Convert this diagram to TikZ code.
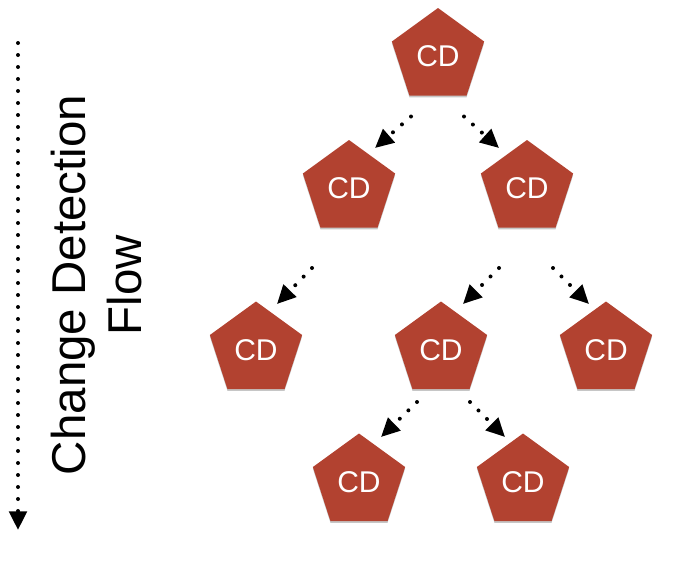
\documentclass[tikz,border=0pt]{standalone}
\usepackage{fontspec}
\setmainfont{Liberation Sans}
\usetikzlibrary{shapes.geometric,arrows.meta,shadows}

\definecolor{cdred}{RGB}{178,66,48}

\begin{document}
\begin{tikzpicture}[
    x=0.75pt, y=-0.75pt,
    cdnode/.style={
        regular polygon,
        regular polygon sides=5,
        fill=cdred,
        inner sep=0pt,
        minimum size=72.75pt,
        text=white,
        font=\fontsize{22.5pt}{26pt}\selectfont,
        drop shadow={opacity=0.45, shadow xshift=0pt, shadow yshift=-1.3pt}
    },
    flowlabel/.style={
        align=center,
        font=\fontsize{35.6pt}{42pt}\selectfont
    },
    flowarrow/.style={
        -{Triangle[length=14pt,width=13pt]},
        line width=3pt,
        line cap=round,
        dash pattern=on 0pt off 9pt
    }
]

\useasboundingbox (0,0) rectangle (679,561);

\node[cdnode] (cdtop) at (438,56.5) {CD};
\node[cdnode] (cdl) at (349,188.5) {CD};
\node[cdnode] (cdr) at (527,188.5) {CD};
\node[cdnode] (cdll) at (256,350) {CD};
\node[cdnode] (cdrm) at (441,350) {CD};
\node[cdnode] (cdrr) at (606,350) {CD};
\node[cdnode] (cdml) at (359,482) {CD};
\node[cdnode] (cdmr) at (523,482) {CD};

\node[flowlabel, rotate=90] (flowtxt) at (97,285) {Change Detection\\Flow};

\coordinate (flowtop) at (18,43);
\coordinate (flowend) at (18,530);
\draw[flowarrow] (flowtop) -- (flowend);

\draw[flowarrow] ([shift={(-27,60)}]cdtop.center) -- ([shift={(26,-40.5)}]cdl.center);
\draw[flowarrow] ([shift={(26,60)}]cdtop.center) -- ([shift={(-28,-40.5)}]cdr.center);
\draw[flowarrow] ([shift={(-37,79.5)}]cdl.center) -- ([shift={(21,-46)}]cdll.center);
\draw[flowarrow] ([shift={(-28,79.5)}]cdr.center) -- ([shift={(22,-46)}]cdrm.center);
\draw[flowarrow] ([shift={(26,79.5)}]cdr.center) -- ([shift={(-17,-46)}]cdrr.center);
\draw[flowarrow] ([shift={(-24,52)}]cdrm.center) -- ([shift={(22,-45)}]cdml.center);
\draw[flowarrow] ([shift={(29,52)}]cdrm.center) -- ([shift={(-18,-45)}]cdmr.center);

\end{tikzpicture}
\end{document}
